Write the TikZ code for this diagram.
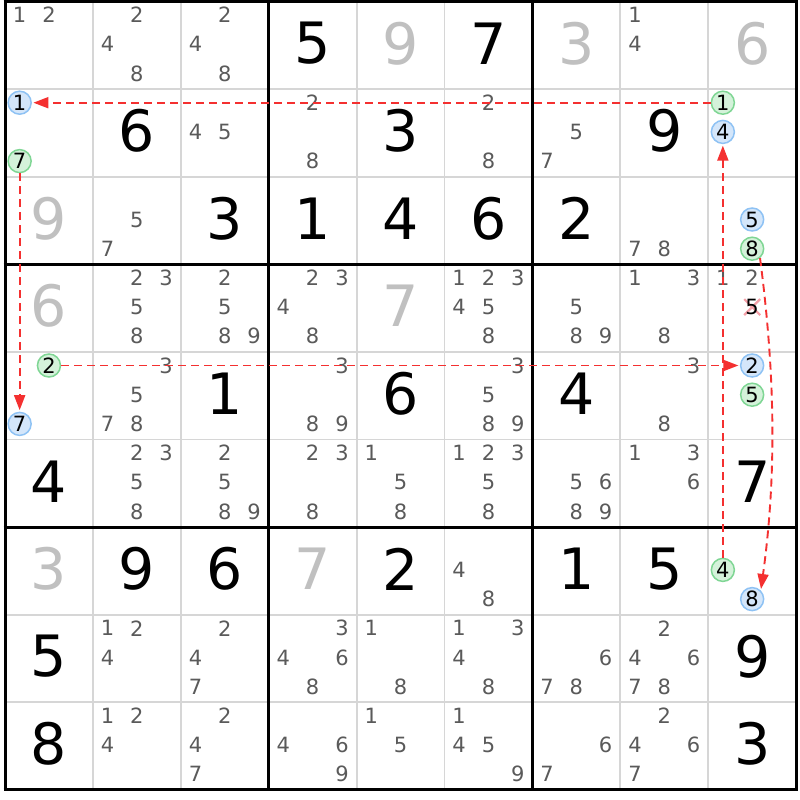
\documentclass[tikz,border=0pt]{standalone}
\usepackage{fontspec}
\setmainfont{DejaVu Sans}
\usetikzlibrary{arrows.meta}
\definecolor{candgray}{HTML}{5A5A5A}
\definecolor{solvedgray}{HTML}{C0C0C0}
\definecolor{thingrid}{HTML}{D6D6D6}
\definecolor{linkred}{HTML}{F43030}
\definecolor{blueFill}{HTML}{D4E6FA}
\definecolor{blueLine}{HTML}{8EC2F4}
\definecolor{greenFill}{HTML}{D4F2DA}
\definecolor{greenLine}{HTML}{7FD694}
\definecolor{crossPink}{HTML}{F4A0A8}
\def\W{87.9}\def\H{87.6}\def\ox{5}\def\oy{1.5}
\newcommand\gv[3]{\node[given] (n#1#2) at ({\ox+(#2-0.5)*\W},{\oy+(#1-0.5)*\H-2}) {#3};}
\newcommand\sv[3]{\node[solved] (n#1#2) at ({\ox+(#2-0.5)*\W},{\oy+(#1-0.5)*\H-2}) {#3};}
\newcommand\cd[3]{\foreach \k in {#3}{%
  \pgfmathtruncatemacro\cc{mod(\k-1,3)}\pgfmathtruncatemacro\rr{(\k-1)/3}%
  \node[cand] (n#1#2-\k) at ({\ox+(#2-1)*\W+(\cc+0.5)*\W/3},{\oy+(#1-1)*\H+(\rr+0.5)*\H/3-1}) {\k};}}
\newcommand\ring[5]{%
  \pgfmathtruncatemacro\cc{mod(#4-1,3)}\pgfmathtruncatemacro\rr{(#4-1)/3}%
  \node[#1] (#5) at ({\ox+(#3-1)*\W+(\cc+0.5)*\W/3},{\oy+(#2-1)*\H+(\rr+0.5)*\H/3-1}) {#4};}
\begin{document}
\begin{tikzpicture}[x=1pt,y=-1pt,
  given/.style={font=\fontsize{57}{60}\selectfont,text=black,inner sep=0pt},
  solved/.style={font=\fontsize{57}{60}\selectfont,text=solvedgray,inner sep=0pt},
  cand/.style={font=\fontsize{21}{22}\selectfont,text=candgray,inner sep=0pt},
  ringbase/.style={circle,minimum size=23pt,inner sep=0pt,line width=1.5pt,font=\fontsize{21}{22}\selectfont,text=black},
  bluering/.style={ringbase,fill=blueFill,draw=blueLine},
  greenring/.style={ringbase,fill=greenFill,draw=greenLine},
  thinline/.style={draw=thingrid,line width=1.8pt},
  thickline/.style={draw=black,line width=3pt},
  link/.style={draw=linkred,line width=1.9pt,dash pattern=on 8pt off 5pt,-{Triangle[length=15pt,width=11pt]},shorten >=1.5pt},
  crossout/.style={draw=crossPink,line width=2.2pt}]
\useasboundingbox (0,0) rectangle (800,800);
\fill[white] (0,0) rectangle (800,800);
% grid
\foreach \i in {1,2,4,5,7,8}{
  \draw[thinline] ({\ox+\i*\W},\oy) -- ({\ox+\i*\W},{\oy+9*\H});
  \draw[thinline] (\ox,{\oy+\i*\H}) -- ({\ox+9*\W},{\oy+\i*\H});}
\foreach \i in {0,3,6,9}{
  \draw[thickline] ({\ox+\i*\W},{\oy-1.5}) -- ({\ox+\i*\W},{\oy+9*\H+1.5});
  \draw[thickline] ({\ox-1.5},{\oy+\i*\H}) -- ({\ox+9*\W+1.5},{\oy+\i*\H});}
% row 1
\cd{1}{1}{1,2}\cd{1}{2}{2,4,8}\cd{1}{3}{2,4,8}\gv{1}{4}{5}\sv{1}{5}{9}\gv{1}{6}{7}\sv{1}{7}{3}\cd{1}{8}{1,4}\sv{1}{9}{6}
% row 2
\ring{bluering}{2}{1}{1}{b21a}\ring{greenring}{2}{1}{7}{g21b}
\gv{2}{2}{6}\cd{2}{3}{4,5}\cd{2}{4}{2,8}\gv{2}{5}{3}\cd{2}{6}{2,8}\cd{2}{7}{5,7}\gv{2}{8}{9}
\ring{greenring}{2}{9}{1}{g29a}\ring{bluering}{2}{9}{4}{b29b}
% row 3
\sv{3}{1}{9}\cd{3}{2}{5,7}\gv{3}{3}{3}\gv{3}{4}{1}\gv{3}{5}{4}\gv{3}{6}{6}\gv{3}{7}{2}\cd{3}{8}{7,8}
\ring{bluering}{3}{9}{5}{b39a}\ring{greenring}{3}{9}{8}{g39b}
% row 4
\sv{4}{1}{6}\cd{4}{2}{2,3,5,8}\cd{4}{3}{2,5,8,9}\cd{4}{4}{2,3,4,8}\sv{4}{5}{7}\cd{4}{6}{1,2,3,4,5,8}\cd{4}{7}{5,8,9}\cd{4}{8}{1,3,8}\cd{4}{9}{1,2}
\node[inner sep=0pt,minimum size=16pt] (x49) at ({\ox+8*\W+1.5*\W/3},{\oy+3*\H+1.5*\H/3-1}) {};
\draw[crossout] ([shift={(-8,-8)}]x49.center) -- ([shift={(8,8)}]x49.center);
\draw[crossout] ([shift={(-8,8)}]x49.center) -- ([shift={(8,-8)}]x49.center);
\node[cand,text=black] (n49-5) at (x49.center) {5};
% row 5
\ring{greenring}{5}{1}{2}{g51a}\ring{bluering}{5}{1}{7}{b51b}
\cd{5}{2}{3,5,7,8}\gv{5}{3}{1}\cd{5}{4}{3,8,9}\gv{5}{5}{6}\cd{5}{6}{3,5,8,9}\gv{5}{7}{4}\cd{5}{8}{3,8}
\ring{bluering}{5}{9}{2}{b59a}\ring{greenring}{5}{9}{5}{g59b}
% row 6
\gv{6}{1}{4}\cd{6}{2}{2,3,5,8}\cd{6}{3}{2,5,8,9}\cd{6}{4}{2,3,8}\cd{6}{5}{1,5,8}\cd{6}{6}{1,2,3,5,8}\cd{6}{7}{5,6,8,9}\cd{6}{8}{1,3,6}\gv{6}{9}{7}
% row 7
\sv{7}{1}{3}\gv{7}{2}{9}\gv{7}{3}{6}\sv{7}{4}{7}\gv{7}{5}{2}\cd{7}{6}{4,8}\gv{7}{7}{1}\gv{7}{8}{5}
\ring{greenring}{7}{9}{4}{g79a}\ring{bluering}{7}{9}{8}{b79b}
% row 8
\gv{8}{1}{5}\cd{8}{2}{1,2,4}\cd{8}{3}{2,4,7}\cd{8}{4}{3,4,6,8}\cd{8}{5}{1,8}\cd{8}{6}{1,3,4,8}\cd{8}{7}{6,7,8}\cd{8}{8}{2,4,6,7,8}\gv{8}{9}{9}
% row 9
\gv{9}{1}{8}\cd{9}{2}{1,2,4}\cd{9}{3}{2,4,7}\cd{9}{4}{4,6,9}\cd{9}{5}{1,5}\cd{9}{6}{1,4,5,9}\cd{9}{7}{6,7}\cd{9}{8}{2,4,6,7}\gv{9}{9}{3}
% links
\draw[link] (g29a) -- (b21a);
\draw[link] (g21b) -- (b51b);
\draw[link] (g51a) -- (b59a);
\draw[link] (g79a) -- (b29b);
\draw[link] (g39b.-50) .. controls (776,380) and (776,480) .. (b79b.45);
\end{tikzpicture}
\end{document}
